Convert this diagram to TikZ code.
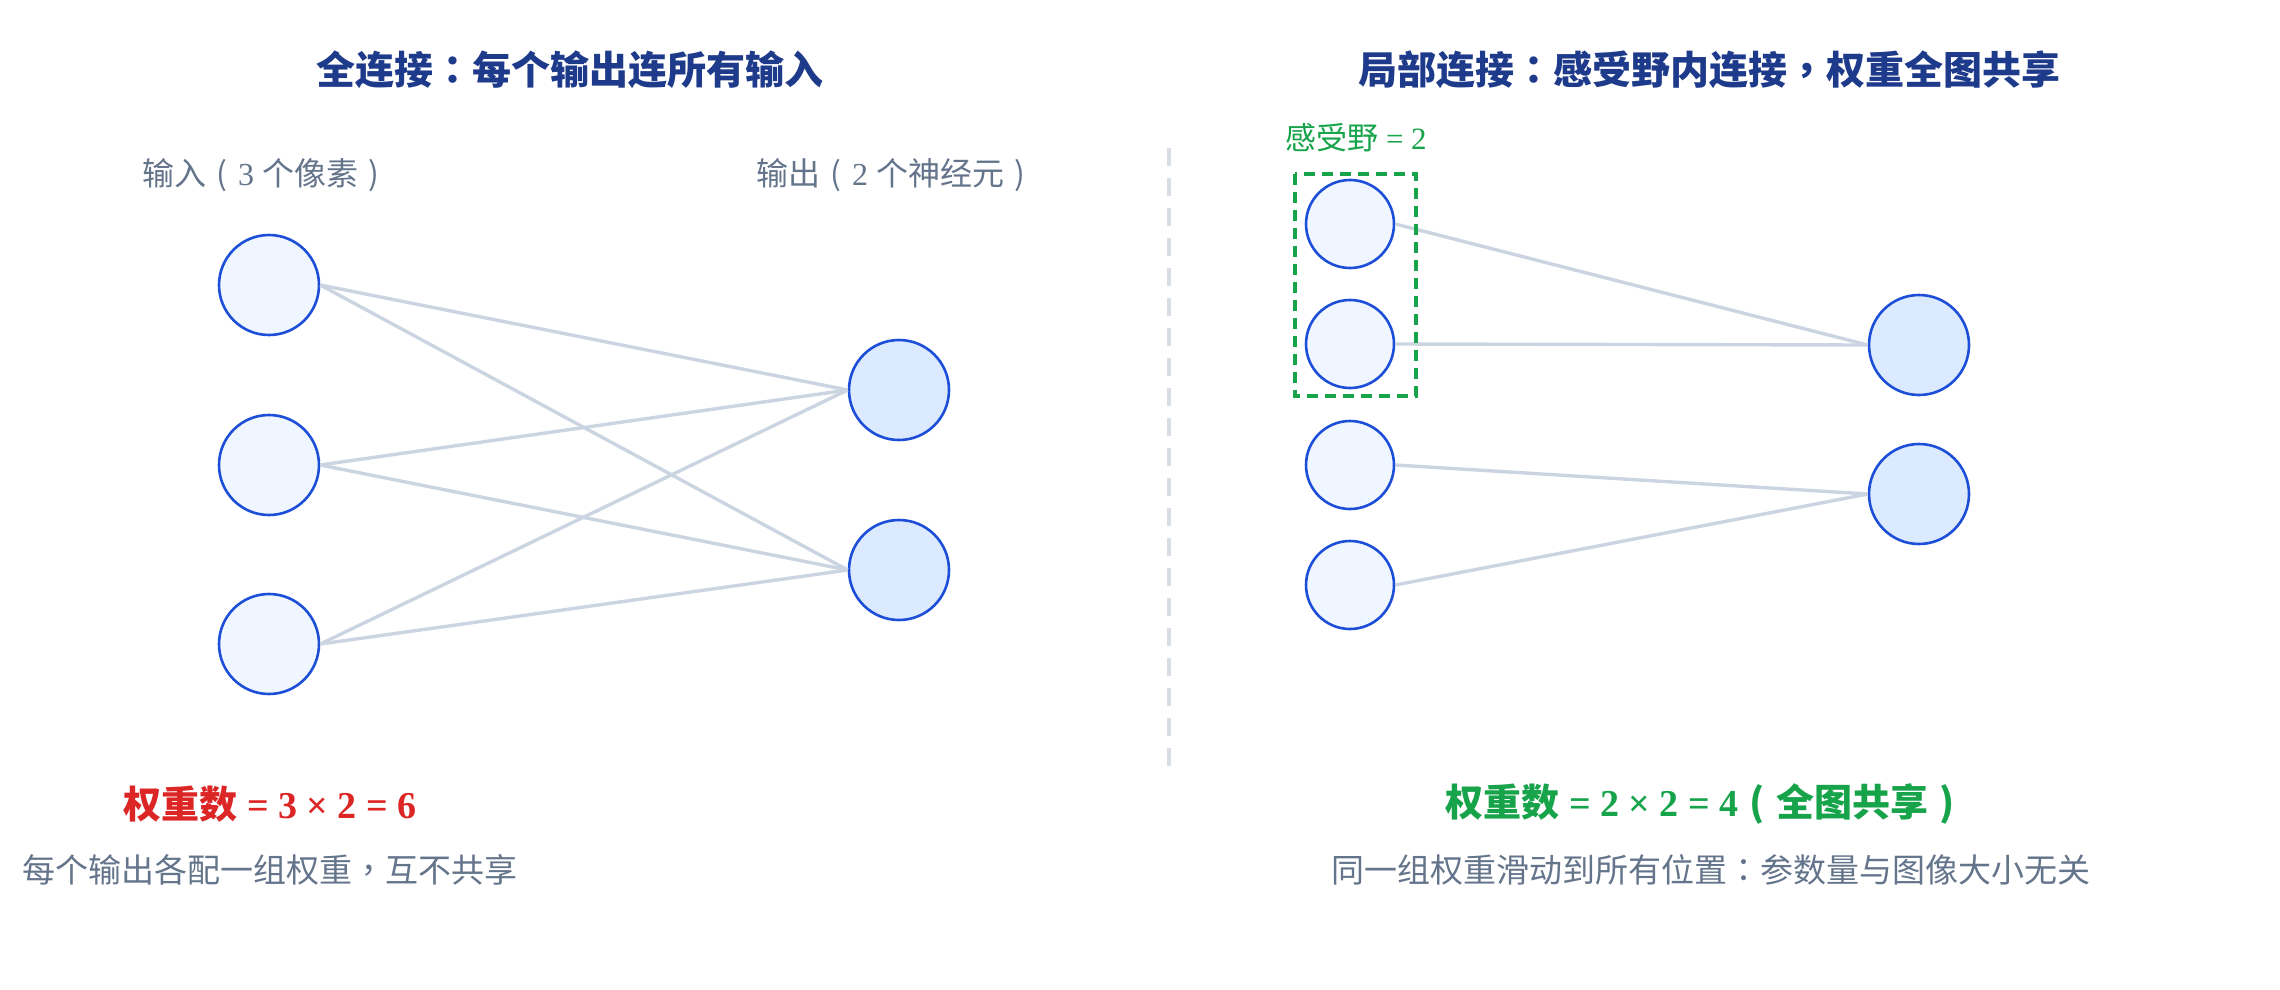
\documentclass[tikz,border=0pt]{standalone}
\usepackage{fontspec}
\setmainfont{Liberation Serif}
\newfontfamily\cjk{Noto Sans CJK SC}
\newfontfamily\cjkp{Noto Sans CJK TC}
\definecolor{navy}{HTML}{1E3A8A}
\definecolor{graytxt}{HTML}{64748B}
\definecolor{redtxt}{HTML}{DC2626}
\definecolor{greentxt}{HTML}{16A34A}
\definecolor{nodeblue}{HTML}{1D4ED8}
\definecolor{infill}{HTML}{EFF6FF}
\definecolor{outfill}{HTML}{DBEAFE}
\definecolor{edgegray}{HTML}{CBD5E1}
\definecolor{divgray}{HTML}{D9DEE6}
\newcommand{\pu}[1]{{\cjkp #1}}
\newcommand{\lpar}{\makebox[1em][c]{\cjk (}}
\newcommand{\rpar}{\makebox[1em][c]{\cjk )}}
\begin{document}
\begin{tikzpicture}[x=1pt,y=-1pt,
  innode/.style={circle, draw=nodeblue, fill=infill, line width=2.6pt, minimum size=100pt, inner sep=0pt},
  smallnode/.style={innode, minimum size=88pt},
  outnode/.style={innode, fill=outfill},
  edge/.style={draw=edgegray, line width=3.4pt},
  title/.style={font=\cjk\bfseries\fontsize{39}{45}\selectfont, text=navy, inner sep=0pt},
  label/.style={font=\fontsize{32}{38}\selectfont, text=graytxt, inner sep=0pt},
  sub/.style={font=\cjk\fontsize{33}{39}\selectfont, text=graytxt, inner sep=0pt},
  count/.style={font=\bfseries\fontsize{38}{44}\selectfont, inner sep=0pt}]
\useasboundingbox (0,0) rectangle (2280,990);
% titles
\node[title] (t1) at (570,70) {全连接\pu{：}每个输出连所有输入};
\node[title] (t2) at (1709,70) {局部连接\pu{：}感受野内连接\pu{，}权重全图共享};
% labels
\node[label] (lin) at (266,175) {{\cjk 输入}\lpar 3 {\cjk 个像素}\rpar};
\node[label] (lout) at (896,175) {{\cjk 输出}\lpar 2 {\cjk 个神经元}\rpar};
\node[label, text=greentxt, font=\fontsize{31}{37}\selectfont] (rf) at (1356,138) {{\cjk 感受野} = 2};
% divider
\draw[divgray, line width=3.5pt, dash pattern=on 18pt off 12pt] (1169,148) -- (1169,768);
% left network
\node[innode] (L1) at (269,285) {};
\node[innode] (L2) at (269,465) {};
\node[innode] (L3) at (269,644) {};
\node[outnode] (O1) at (899,390) {};
\node[outnode] (O2) at (899,570) {};
\foreach \a in {L1,L2,L3}{
  \foreach \b in {O1,O2}{
    \draw[edge] (\a.east) -- (\b.west);
  }
}
% right network
\node[smallnode] (R1) at (1350,224) {};
\node[smallnode] (R2) at (1350,344) {};
\node[smallnode] (R3) at (1350,465) {};
\node[smallnode] (R4) at (1350,585) {};
\node[outnode] (P1) at (1919,345) {};
\node[outnode] (P2) at (1919,494) {};
\draw[edge] (R1.east) -- (P1.west);
\draw[edge] (R2.east) -- (P1.west);
\draw[edge] (R3.east) -- (P2.west);
\draw[edge] (R4.east) -- (P2.west);
\draw[greentxt, line width=3.6pt, dash pattern=on 11pt off 7pt] (1295,174) rectangle (1416,396);
% counts
\node[count, text=redtxt] (c1) at (270,804) {{\cjk\bfseries 权重数} = 3 × 2 = 6};
\node[count, text=greentxt] (c2) at (1706,804) {{\cjk\bfseries 权重数} = 2 × 2 = 4{\cjk\bfseries\lpar 全图共享\rpar}};
\node[sub] (s1) at (270,870) {每个输出各配一组权重\pu{，}互不共享};
\node[sub] (s2) at (1711,870) {同一组权重滑动到所有位置\pu{：}参数量与图像大小无关};
\end{tikzpicture}
\end{document}
